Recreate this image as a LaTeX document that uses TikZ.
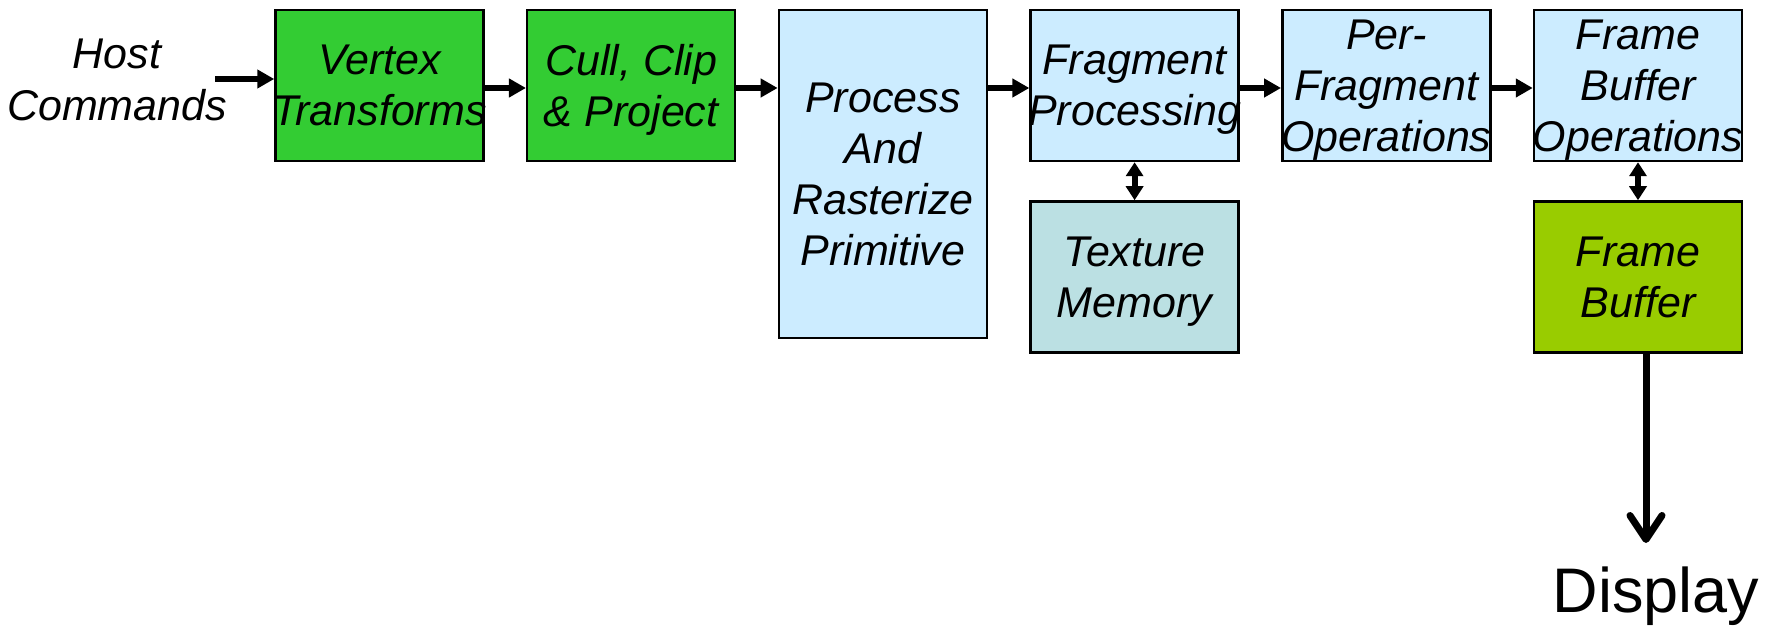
\documentclass[tikz,border=0pt]{standalone}
\usepackage{fontspec}
\setmainfont{Liberation Sans}
\usetikzlibrary{arrows.meta}
\definecolor{stagegreen}{HTML}{33CC33}
\definecolor{stageblue}{HTML}{CCECFF}
\definecolor{texteal}{HTML}{BBE0E3}
\definecolor{fbgreen}{HTML}{99CC00}
\begin{document}
\begin{tikzpicture}[x=0.5pt,y=-0.5pt,
  stage/.style={draw=black, line width=1.25pt, inner ysep=0pt, inner xsep=-10pt,
    minimum width=104pt, minimum height=75.5pt, align=center, text depth=0pt,
    font=\fontsize{21.5}{25.5}\selectfont\itshape},
  flow/.style={line width=3pt, -{Triangle[length=8.5pt,width=9pt]}},
  biflow/.style={line width=3pt,
    {Triangle[length=7pt,width=8.5pt]}-{Triangle[length=7pt,width=8.5pt]}},
  outflow/.style={line width=3.5pt, -{Straight Barb[length=12pt,width=16pt,round]}}]
\useasboundingbox (0,0) rectangle (1777,630);

% pipeline stages
\node[stage, fill=stagegreen] (vt) at (379.5,85.5) {Vertex\\Transforms};
\node[stage, fill=stagegreen] (cc) at (631.2,85.5) {Cull, Clip\\\& Project};
\node[stage, fill=stageblue, minimum height=164pt] (pr) at (882.9,174) {Process\\And\\Rasterize\\Primitive};
\node[stage, fill=stageblue] (fp) at (1134.6,85.5) {Fragment\\Processing};
\node[stage, fill=texteal] (tm) at (1134.6,277) {Texture\\Memory};
\node[stage, fill=stageblue] (pf) at (1386.3,85.5) {Per-\\Fragment\\Operations};
\node[stage, fill=stageblue] (fo) at (1638,85.5) {Frame\\Buffer\\Operations};
\node[stage, fill=fbgreen] (fb) at (1638,277) {Frame\\Buffer};

% input and output labels
\node[align=center, font=\fontsize{21.5}{26}\selectfont\itshape] (host) at (117,80) {Host\\Commands};
\node[anchor=base, font=\fontsize{31.5}{36}\selectfont] (display) at (1656,612) {Display};

\coordinate (hs) at (215,79);
\coordinate (tip) at (1646,543);

% connectors
\draw[flow] (hs) -- (vt.west |- hs);
\draw[flow] ([yshift=-1.25pt]vt.east) -- ([yshift=-1.25pt]cc.west);
\draw[flow] ([yshift=-1.25pt]cc.east) -- ([yshift=-1.25pt]cc.east -| pr.west);
\draw[flow] ([yshift=-1.25pt]fp.west -| pr.east) -- ([yshift=-1.25pt]fp.west);
\draw[flow] ([yshift=-1.25pt]fp.east) -- ([yshift=-1.25pt]pf.west);
\draw[flow] ([yshift=-1.25pt]pf.east) -- ([yshift=-1.25pt]fo.west);
\draw[biflow] (fp.south) -- (tm.north);
\draw[biflow] (fo.south) -- (fb.north);
\draw[outflow] (fb.south -| tip) -- (tip);
\end{tikzpicture}
\end{document}
